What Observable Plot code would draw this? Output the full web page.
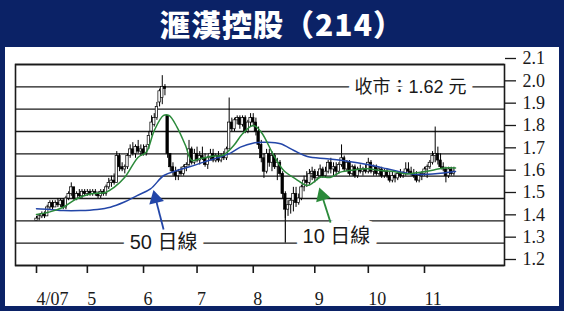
<!DOCTYPE html>
<html><head><meta charset="utf-8">
<script src="https://cdn.jsdelivr.net/npm/d3@7"></script>
<script src="https://cdn.jsdelivr.net/npm/@observablehq/plot@0.6"></script>
<style>
html,body{margin:0;padding:0;width:564px;height:311px;overflow:hidden;background:#0b2266;}
#title{position:absolute;left:0;top:0;width:564px;height:47px;color:#fff;font:900 30px "Noto Sans CJK TC","Noto Sans CJK SC",sans-serif;text-align:center;line-height:46px;letter-spacing:1px;}
#panel{position:absolute;left:5px;top:47px;width:554px;height:259px;background:#fff;}
#chart{position:absolute;left:0;top:0;}
</style></head><body>
<div id="title">滙漢控股（214）</div>
<div id="panel"></div>
<div id="chart"></div>
<script>
// trading-day index 0..156 (Apr 2007 – mid Nov 2007)
const opens = [1.40,1.41,1.42,1.43,1.42,1.46,1.48,1.46,1.48,1.47,
 1.49,1.46,1.50,1.52,1.55,1.50,1.52,1.51,1.53,1.52,
 1.53,1.52,1.53,1.52,1.51,1.53,1.52,1.55,1.57,1.58,
 1.57,1.69,1.64,1.63,1.64,1.69,1.72,1.70,1.73,1.71,
 1.72,1.70,1.74,1.80,1.83,1.86,1.93,1.95,2.00,1.87,
 1.70,1.64,1.62,1.60,1.62,1.61,1.64,1.65,1.72,1.66,
 1.70,1.67,1.69,1.68,1.65,1.68,1.70,1.67,1.69,1.67,
 1.69,1.68,1.72,1.84,1.81,1.85,1.86,1.83,1.86,1.80,
 1.84,1.86,1.84,1.80,1.74,1.68,1.62,1.70,1.66,1.69,
 1.64,1.66,1.61,1.52,1.45,1.47,1.49,1.52,1.48,1.50,
 1.55,1.58,1.57,1.61,1.62,1.59,1.60,1.63,1.60,1.62,
 1.66,1.63,1.64,1.62,1.65,1.68,1.63,1.66,1.61,1.64,
 1.60,1.63,1.62,1.63,1.62,1.66,1.62,1.64,1.61,1.63,
 1.60,1.62,1.60,1.58,1.60,1.59,1.61,1.60,1.61,1.63,
 1.62,1.61,1.60,1.58,1.60,1.61,1.63,1.64,1.66,1.69,
 1.70,1.67,1.64,1.63,1.60,1.63,1.61];
const highs = [1.42,1.43,1.44,1.44,1.47,1.49,1.49,1.49,1.50,1.50,
 1.50,1.51,1.53,1.57,1.55,1.53,1.54,1.54,1.54,1.54,
 1.54,1.54,1.54,1.53,1.54,1.54,1.56,1.59,1.60,1.61,
 1.71,1.70,1.66,1.65,1.70,1.74,1.75,1.74,1.76,1.74,
 1.74,1.74,1.80,1.87,1.88,1.93,1.99,2.05,2.01,1.87,
 1.70,1.66,1.64,1.63,1.64,1.65,1.66,1.76,1.73,1.72,
 1.73,1.71,1.73,1.70,1.69,1.72,1.72,1.70,1.71,1.70,
 1.71,1.73,1.95,1.86,1.86,1.87,1.87,1.87,1.87,1.85,
 1.88,1.88,1.86,1.82,1.76,1.70,1.72,1.72,1.71,1.70,
 1.68,1.67,1.62,1.53,1.49,1.50,1.55,1.55,1.52,1.56,
 1.60,1.62,1.63,1.64,1.63,1.62,1.65,1.64,1.64,1.67,
 1.68,1.66,1.66,1.66,1.74,1.69,1.67,1.67,1.65,1.65,
 1.64,1.65,1.64,1.65,1.68,1.67,1.65,1.65,1.64,1.64,
 1.63,1.63,1.62,1.62,1.61,1.62,1.63,1.62,1.66,1.66,
 1.64,1.63,1.62,1.61,1.62,1.64,1.65,1.67,1.71,1.82,
 1.73,1.70,1.66,1.64,1.64,1.64,1.64];
const lows = [1.40,1.40,1.41,1.41,1.42,1.45,1.45,1.46,1.46,1.46,
 1.45,1.45,1.49,1.51,1.49,1.49,1.50,1.50,1.51,1.51,
 1.51,1.51,1.51,1.50,1.50,1.51,1.51,1.54,1.55,1.56,
 1.57,1.62,1.62,1.61,1.63,1.68,1.69,1.68,1.70,1.69,
 1.69,1.69,1.72,1.78,1.82,1.85,1.91,1.92,1.96,1.68,
 1.62,1.60,1.58,1.58,1.60,1.60,1.62,1.64,1.65,1.65,
 1.66,1.65,1.67,1.64,1.63,1.67,1.66,1.66,1.66,1.66,
 1.67,1.67,1.72,1.80,1.80,1.83,1.81,1.82,1.79,1.79,
 1.82,1.82,1.78,1.72,1.66,1.59,1.61,1.64,1.62,1.63,
 1.58,1.60,1.50,1.41,1.42,1.43,1.44,1.46,1.47,1.49,
 1.53,1.55,1.56,1.58,1.57,1.58,1.59,1.59,1.59,1.61,
 1.61,1.60,1.60,1.61,1.64,1.62,1.62,1.60,1.60,1.59,
 1.59,1.61,1.60,1.61,1.61,1.61,1.60,1.60,1.60,1.59,
 1.59,1.59,1.57,1.57,1.57,1.58,1.59,1.59,1.60,1.61,
 1.60,1.59,1.57,1.57,1.58,1.60,1.59,1.63,1.65,1.66,
 1.65,1.63,1.62,1.57,1.59,1.60,1.60];
const closes = [1.41,1.42,1.43,1.42,1.46,1.48,1.46,1.48,1.47,1.49,
 1.46,1.50,1.52,1.55,1.50,1.52,1.51,1.53,1.52,1.53,
 1.52,1.53,1.52,1.51,1.53,1.52,1.55,1.57,1.58,1.57,
 1.69,1.64,1.63,1.64,1.69,1.72,1.70,1.73,1.71,1.72,
 1.70,1.73,1.78,1.84,1.86,1.91,1.98,2.00,1.99,1.70,
 1.64,1.62,1.60,1.62,1.61,1.64,1.65,1.72,1.66,1.70,
 1.67,1.69,1.68,1.65,1.68,1.70,1.67,1.69,1.67,1.69,
 1.68,1.72,1.84,1.81,1.85,1.86,1.83,1.86,1.80,1.84,
 1.86,1.84,1.80,1.74,1.68,1.62,1.70,1.66,1.69,1.64,
 1.66,1.61,1.52,1.45,1.47,1.49,1.52,1.48,1.50,1.55,
 1.58,1.57,1.61,1.62,1.59,1.60,1.63,1.60,1.62,1.66,
 1.63,1.64,1.62,1.65,1.68,1.63,1.66,1.61,1.64,1.60,
 1.63,1.62,1.63,1.62,1.66,1.62,1.64,1.61,1.63,1.60,
 1.62,1.60,1.58,1.60,1.59,1.61,1.60,1.61,1.63,1.62,
 1.61,1.60,1.58,1.60,1.61,1.63,1.64,1.66,1.69,1.70,
 1.67,1.64,1.63,1.60,1.63,1.61,1.62];

// moving averages (trading-day index, price)
const ma10Day = [0,5,10,15,20,26,29,33,38,41,44,47.5,49.5,52.5,55.7,58,61,65,70,73.7,77,81,84,88.7,92.4,96.8,101.2,103.6,106,110,113.6,118.6,123.6,128.6,133.5,138.5,143.5,148.5,152.2,156.6];
const ma10Val = [1.428,1.44,1.461,1.499,1.52,1.528,1.55,1.595,1.685,1.707,1.804,1.872,1.872,1.82,1.737,1.67,1.678,1.688,1.696,1.737,1.79,1.827,1.797,1.692,1.625,1.588,1.558,1.573,1.595,1.595,1.618,1.628,1.633,1.625,1.621,1.61,1.618,1.628,1.637,1.637];
const ma50Day = [0,5,10,16.4,22.7,27.6,32.6,37.6,42.6,47.6,52.5,57.5,62.5,67.5,72.5,76.2,81.2,86.2,91.2,96.2,101.2,108.6,116.1,123.6,131,138.5,143.5,151,156.6];
const ma50Val = [1.454,1.451,1.446,1.446,1.451,1.461,1.483,1.513,1.543,1.603,1.625,1.643,1.663,1.682,1.703,1.73,1.749,1.752,1.745,1.715,1.688,1.678,1.667,1.652,1.633,1.613,1.607,1.613,1.621];

const monthDay = [0,19,40,60,81,104,124,145];
const monthLabels = ["4/07","5","6","7","8","9","10","11"];
const priceTicks = [1.2,1.3,1.4,1.5,1.6,1.7,1.8,1.9,2.0,2.1];

const closeLabel = "收市：1.62 元";
const ma50Label = "50 日線";
const ma10Label = "10 日線";

const bars = closes.map((c, i) => ({i, open: opens[i], high: highs[i], low: lows[i], close: c}));
const ma10 = ma10Day.map((d, k) => ({i: d, v: ma10Val[k]}));
const ma50 = ma50Day.map((d, k) => ({i: d, v: ma50Val[k]}));
const labelOf = new Map(monthDay.map((d, k) => [d, monthLabels[k]]));

const BLUE = "#2346a8", GREEN = "#2b8a3a", INK = "#1a1a1a";
const sans = "'Liberation Sans','Noto Sans CJK TC',sans-serif";
const serif = "'Liberation Serif','DejaVu Serif',serif";

const chart = Plot.plot({
  width: 564, height: 311,
  marginLeft: 15, marginRight: 60, marginTop: 64, marginBottom: 46,
  x: {domain: [-7.85, 174.9]},
  y: {domain: [1.2, 2.1]},
  style: {background: "transparent", overflow: "visible"},
  marks: [
    Plot.ruleY(priceTicks, {stroke: INK, strokeWidth: 1.3}),
    Plot.frame({stroke: INK, strokeWidth: 1.6}),
    Plot.axisY(priceTicks, {anchor: "right", tickSize: 11, tickPadding: 7, tickFormat: d3.format(".1f"),
      fontSize: 18, fontFamily: serif, dy: -6, color: INK, strokeWidth: 1.3}),
    Plot.axisX(monthDay, {anchor: "bottom", tickSize: 8, tickPadding: 19, tickFormat: d => labelOf.get(d),
      textAnchor: "start", fontSize: 18, fontFamily: serif, color: INK, strokeWidth: 1.6}),
    // leader from the August low down to the label line
    Plot.ruleX([{i: 93, y1: 1.3, y2: 1.45}], {x: "i", y1: "y1", y2: "y2", stroke: INK, strokeWidth: 1.3}),
    // candles
    Plot.ruleX(bars, {x: "i", y1: "low", y2: "high", stroke: "black", strokeWidth: 1}),
    Plot.rect(bars, {x1: d => d.i - 0.45, x2: d => d.i + 0.45, y1: "open", y2: "close",
      fill: d => d.close >= d.open ? "white" : "black", stroke: "black", strokeWidth: 0.7}),
    // moving averages
    Plot.line(ma50, {x: "i", y: "v", stroke: BLUE, strokeWidth: 1.5, curve: "catmull-rom"}),
    Plot.line(ma10, {x: "i", y: "v", stroke: GREEN, strokeWidth: 1.5, curve: "catmull-rom"}),
    // labels with white knock-out
    Plot.text([{i: 139.8, v: 1.997, t: closeLabel}], {x: "i", y: "v", text: "t", fontSize: 18, fontFamily: sans,
      fill: INK, stroke: "white", strokeWidth: 14}),
    Plot.text([{i: 47.5, v: 1.303, t: ma50Label}], {x: "i", y: "v", text: "t", fontSize: 20, fontFamily: sans,
      fill: INK, stroke: "white", strokeWidth: 14}),
    Plot.text([{i: 112.1, v: 1.330, t: ma10Label}], {x: "i", y: "v", text: "t", fontSize: 20, fontFamily: sans,
      fill: INK, stroke: "white", strokeWidth: 14}),
    // arrows
    Plot.link([{x1: 47.5, y1: 1.361, x2: 44.5, y2: 1.50}], {x1: "x1", y1: "y1", x2: "x2", y2: "y2", stroke: BLUE, strokeWidth: 1.8}),
    Plot.dot([{i: 44.5, v: 1.50}], {x: "i", y: "v", symbol: "triangle", r: 5.6, fill: BLUE, rotate: -14}),
    Plot.link([{x1: 109.9, y1: 1.392, x2: 106.7, y2: 1.512}], {x1: "x1", y1: "y1", x2: "x2", y2: "y2", stroke: GREEN, strokeWidth: 1.8}),
    Plot.dot([{i: 106.7, v: 1.512}], {x: "i", y: "v", symbol: "triangle", r: 5.6, fill: GREEN, rotate: -18})
  ]
});
document.getElementById("chart").appendChild(chart);
</script>
</body></html>
